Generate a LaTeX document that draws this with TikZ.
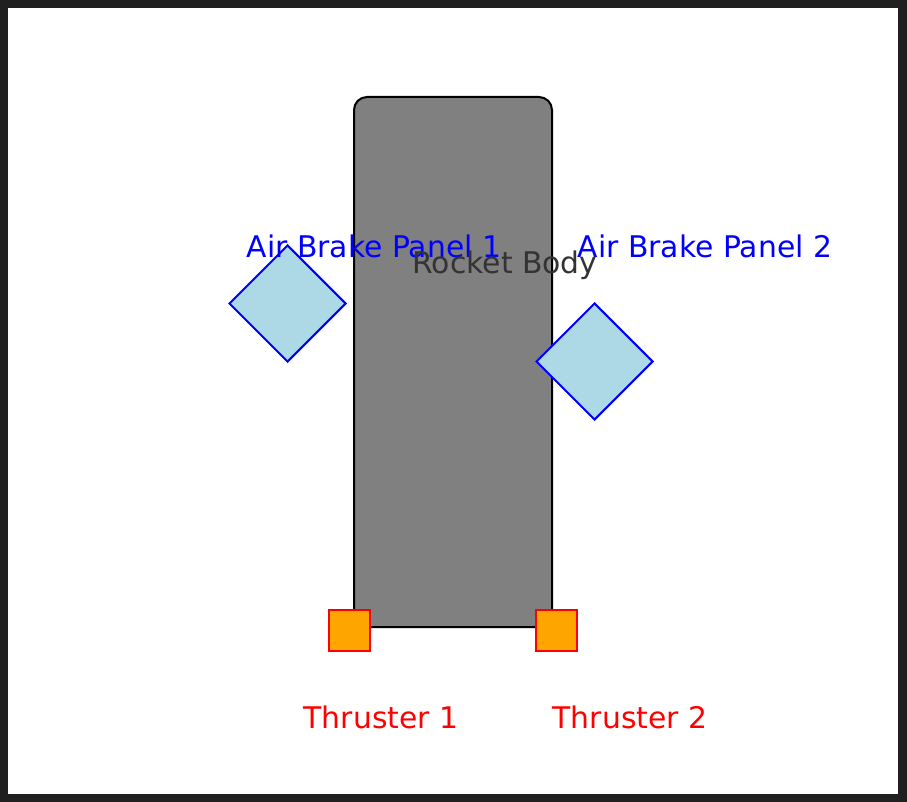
\documentclass[tikz,border=0pt]{standalone}
\usepackage{fontspec}
\setmainfont{DejaVu Sans}
\usepackage{tikz}
\usetikzlibrary{shapes.geometric,positioning}
\definecolor{frame}{HTML}{202020}
\definecolor{bodygray}{HTML}{808080}
\definecolor{bodytext}{HTML}{333333}
\definecolor{brakefill}{HTML}{ADD8E6}
\definecolor{thrfill}{HTML}{FFA500}
\tikzset{
  rocketbody/.style={draw=black, fill=bodygray, line width=2pt, rounded corners=13pt,
    minimum width=198pt, minimum height=530pt, inner sep=0pt},
  brake/.style={draw=blue, fill=brakefill, line width=2pt, diamond, aspect=1,
    minimum width=117pt, minimum height=117pt, inner sep=0pt},
  thruster/.style={draw=red, fill=thrfill, line width=2pt,
    minimum width=41pt, minimum height=41pt, inner sep=0pt},
  lbl/.style={font=\fontsize{29.8}{35}\selectfont, inner sep=0pt, anchor=base}
}
\begin{document}
\begin{tikzpicture}[x=1pt, y=-1pt]
% frame and canvas
\fill[frame] (0,0) rectangle (907,802);
\fill[white] (8,8) rectangle (898,794);
\useasboundingbox (0,0) rectangle (907,802);

\node[rocketbody] (body) at (453,362) {};
\node[brake] (brake1) at (287.5,303.5) {};
\node[brake] (brake2) at (594.5,361.5) {};
\node[thruster] (thr1) at (349.5,630.5) {};
\node[thruster] (thr2) at (556.5,630.5) {};

% labels
\node[lbl, text=blue] (brake1lbl) at (374,257.5) {Air Brake Panel 1};
\node[lbl, text=blue] (brake2lbl) at (705,257.5) {Air Brake Panel 2};
\node[lbl, text=bodytext] (bodylbl) at (505,273.5) {Rocket Body};
\node[lbl, text=red] (thr1lbl) at (381,728.5) {Thruster 1};
\node[lbl, text=red] (thr2lbl) at (630,728.5) {Thruster 2};
\end{tikzpicture}
\end{document}
